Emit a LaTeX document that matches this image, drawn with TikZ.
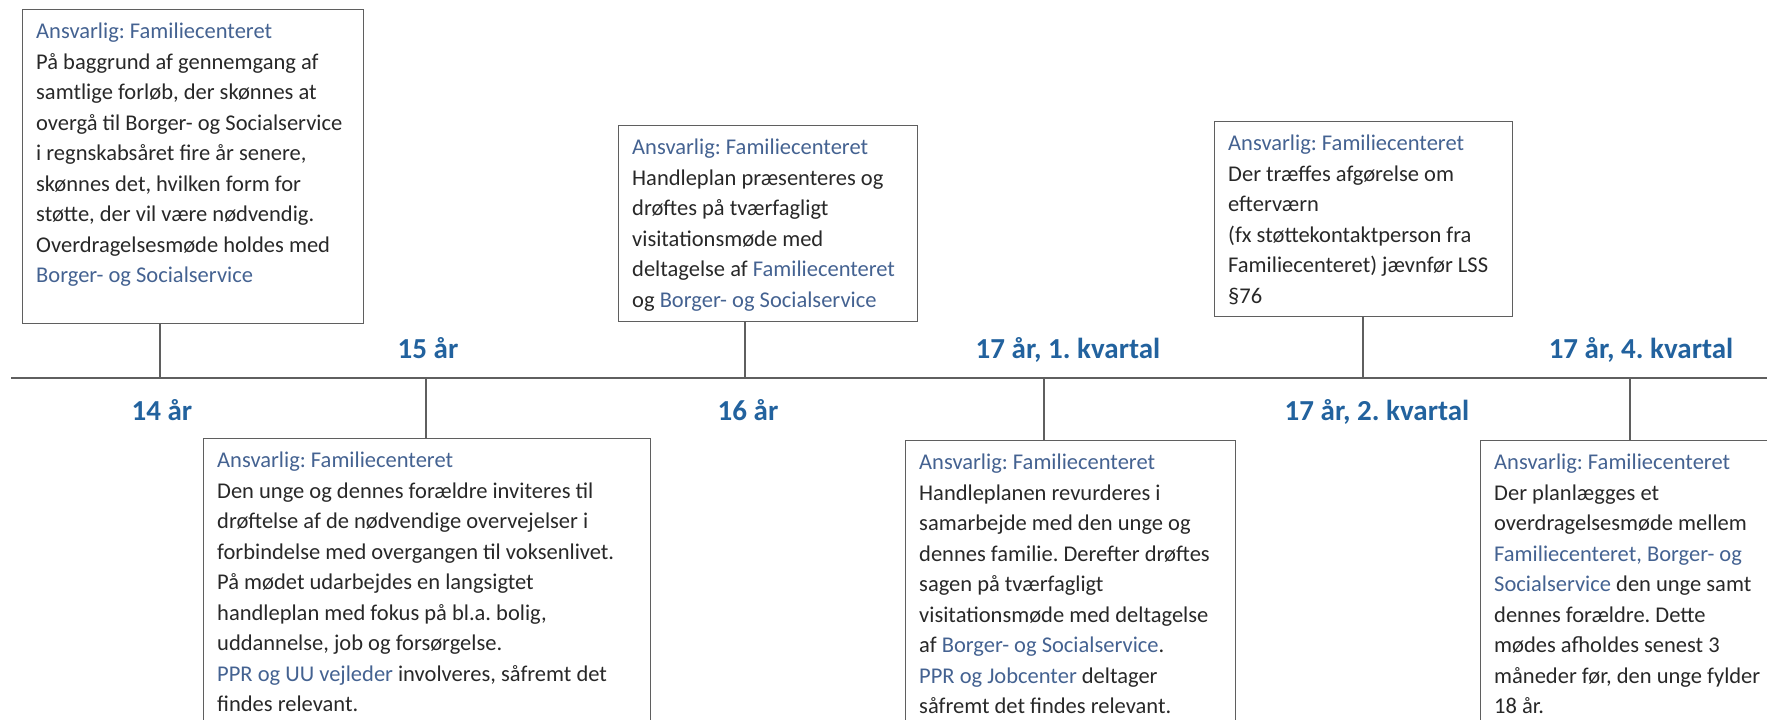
\documentclass[tikz,border=0pt]{standalone}
\usepackage{fontspec}
\setmainfont{Carlito}
\usepackage{tikz}
\usetikzlibrary{positioning, arrows}

\definecolor{headblue}{RGB}{34,98,158}
\definecolor{nameblue}{RGB}{68,98,145}
\definecolor{inkgray}{RGB}{40,40,40}
\definecolor{linegray}{RGB}{95,95,95}

\newcommand{\bodyfont}{\fontsize{22.5pt}{30.5pt}\selectfont}
\newcommand{\agefont}{\fontsize{29pt}{35pt}\selectfont\bfseries}
\newcommand{\hl}[1]{\textcolor{nameblue}{#1}}

\tikzstyle{frame} = [rectangle, draw=linegray, line width=1.3pt, anchor=north west]
\tikzstyle{note} = [align=left, inner sep=0pt, font=\bodyfont, text=inkgray, execute at begin node=\strut]
\tikzstyle{age} = [anchor=base, font=\agefont, text=headblue, inner sep=0pt]
\tikzstyle{link} = [draw=linegray, line width=1.3pt]
\tikzstyle{axis} = [draw=linegray, line width=2.2pt, ->, >=stealth]

\frenchspacing

\begin{document}
\begin{tikzpicture}[x=1pt, y=-1pt]
\useasboundingbox (0,0) rectangle (1767,720);
\clip (0,0) rectangle (1767,720);

% timeline
\coordinate (start) at (11,378);
\coordinate (end) at (1780,378);
\draw [axis] (start) -- (end);

\coordinate (p14) at (160,378);
\coordinate (p15) at (426,378);
\coordinate (p16) at (745,378);
\coordinate (p17a) at (1044,378);
\coordinate (p17b) at (1363,378);
\coordinate (p17d) at (1630,378);

% ages
\node (a14) [age] at (162,420) {14 år};
\node (a15) [age] at (428,358) {15 år};
\node (a16) [age] at (748,420) {16 år};
\node (a17a) [age] at (1068,358) {17 år, 1. kvartal};
\node (a17b) [age] at (1377,420) {17 år, 2. kvartal};
\node (a17d) [age] at (1641,358) {17 år, 4. kvartal};

% frames
\node (b14) [frame, minimum width=341pt, minimum height=314pt] at (22,9) {};
\node (b15) [frame, minimum width=447pt, minimum height=340pt] at (203,438) {};
\node (b16) [frame, minimum width=299pt, minimum height=196pt] at (618,125) {};
\node (b17a) [frame, minimum width=330pt, minimum height=340pt] at (905,440) {};
\node (b17b) [frame, minimum width=298pt, minimum height=195pt] at (1214,121) {};
\node (b17d) [frame, minimum width=340pt, minimum height=340pt] at (1480,440) {};

% texts
\node (t14) [note, below right=14pt and 14pt of b14.north west] {\hl{Ansvarlig: Familiecenteret}\\
På baggrund af gennemgang af\\
samtlige forløb, der skønnes at\\
overgå til Borger- og Socialservice\\
i regnskabsåret fire år senere,\\
skønnes det, hvilken form for\\
støtte, der vil være nødvendig.\\
Overdragelsesmøde holdes med\\
\hl{Borger- og Socialservice}};
\node (t15) [note, below right=14pt and 14pt of b15.north west] {\hl{Ansvarlig: Familiecenteret}\\
Den unge og dennes forældre inviteres til\\
drøftelse af de nødvendige overvejelser i\\
forbindelse med overgangen til voksenlivet.\\
På mødet udarbejdes en langsigtet\\
handleplan med fokus på bl.a. bolig,\\
uddannelse, job og forsørgelse.\\
\hl{PPR og UU vejleder} involveres, såfremt det\\
findes relevant.};
\node (t16) [note, below right=14pt and 14pt of b16.north west] {\hl{Ansvarlig: Familiecenteret}\\
Handleplan præsenteres og\\
drøftes på tværfagligt\\
visitationsmøde med\\
deltagelse af \hl{Familiecenteret}\\
og \hl{Borger- og Socialservice}};
\node (t17a) [note, below right=14pt and 14pt of b17a.north west] {\hl{Ansvarlig: Familiecenteret}\\
Handleplanen revurderes i\\
samarbejde med den unge og\\
dennes familie. Derefter drøftes\\
sagen på tværfagligt\\
visitationsmøde med deltagelse\\
af \hl{Borger- og Socialservice}.\\
\hl{PPR og Jobcenter} deltager\\
såfremt det findes relevant.};
\node (t17b) [note, below right=14pt and 14pt of b17b.north west] {\hl{Ansvarlig: Familiecenteret}\\
Der træffes afgørelse om\\
efterværn\\
(fx støttekontaktperson fra\\
Familiecenteret) jævnfør LSS\\
§76};
\node (t17d) [note, below right=14pt and 14pt of b17d.north west] {\hl{Ansvarlig: Familiecenteret}\\
Der planlægges et\\
overdragelsesmøde mellem\\
\hl{Familiecenteret, Borger- og}\\
\hl{Socialservice} den unge samt\\
dennes forældre. Dette\\
mødes afholdes senest 3\\
måneder før, den unge fylder\\
18 år.};

% connectors
\draw [link] (p14) -- (p14 |- b14.south);
\draw [link] (p15) -- (p15 |- b15.north);
\draw [link] (p16) -- (p16 |- b16.south);
\draw [link] (p17a) -- (p17a |- b17a.north);
\draw [link] (p17b) -- (p17b |- b17b.south);
\draw [link] (p17d) -- (p17d |- b17d.north);
\end{tikzpicture}
\end{document}
